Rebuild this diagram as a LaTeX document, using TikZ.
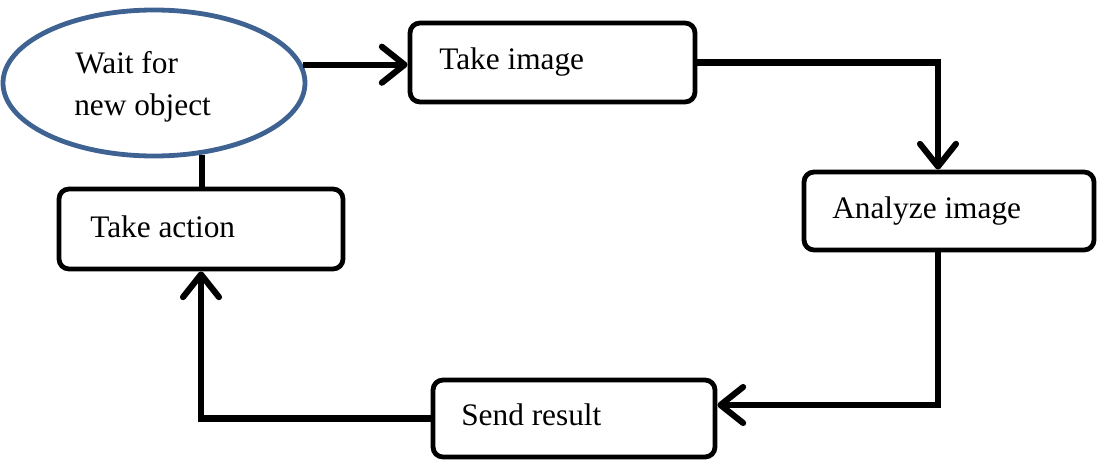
\documentclass[tikz,border=0pt]{standalone}
\usepackage{fontspec}
\setmainfont{Liberation Serif}
\usetikzlibrary{arrows.meta,shapes.geometric,calc}
\definecolor{ovalblue}{RGB}{62,98,146}
\tikzset{
  stepbox/.style={draw=black, line width=3.6pt, rounded corners=7.5pt, inner sep=0pt, fill=white},
  oval/.style={ellipse, draw=ovalblue, line width=3.6pt, inner sep=0pt, minimum width=302*0.75pt, minimum height=146*0.75pt},
  lbl/.style={anchor=base west, inner sep=0pt, font=\fontsize{23.5}{28}\selectfont},
  flow/.style={line width=4.6pt, line join=miter},
  arr/.style={flow, -{Straight Barb[length=17pt, width=27pt, round]}}
}
\begin{document}
\begin{tikzpicture}[x=0.75pt, y=-0.75pt]
  \useasboundingbox (0,0) rectangle (1097,460);

  % start state and process steps
  \node[oval] (wait) at (154,83) {};
  \node[stepbox, minimum width=285*0.75pt, minimum height=79*0.75pt] (take) at (552.5,62.5) {};
  \node[stepbox, minimum width=290*0.75pt, minimum height=78*0.75pt] (analyze) at (949,211) {};
  \node[stepbox, minimum width=282*0.75pt, minimum height=77*0.75pt] (send) at (574,418.5) {};
  \node[stepbox, minimum width=284*0.75pt, minimum height=80*0.75pt] (act) at (201,229) {};

  % labels
  \node[lbl] (waitA) at (75,74) {Wait for};
  \node[lbl] (waitB) at (74,116) {new object};
  \node[lbl] (takeL) at (439,70) {Take image};
  \node[lbl] (analyzeL) at (832,218) {Analyze image};
  \node[lbl] (sendL) at (461,425) {Send result};
  \node[lbl] (actL) at (90,237) {Take action};

  % connectors
  \draw[arr] (wait.7) -- (wait.7 -| take.west);
  \draw[arr] (take.east) -| ($(analyze.north)+(-11,0)$);
  \draw[arr] ($(analyze.south)+(-11,0)$) |- ($(send.east)+(0,-13.5)$);
  \draw[arr] (send.west) -| (act.south);
  \draw[flow] (wait.304) -- (wait.304 |- act.north);
\end{tikzpicture}
\end{document}
